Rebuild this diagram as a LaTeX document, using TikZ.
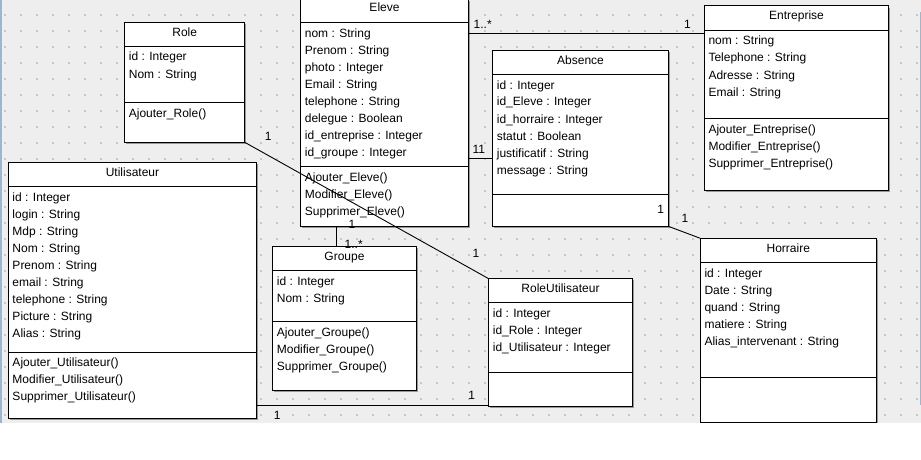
\documentclass[tikz,border=0pt]{standalone}
\usepackage{fontspec}
\setmainfont{Liberation Sans}
\usetikzlibrary{shadows}
\definecolor{bggrey}{HTML}{EEEEEE}
\definecolor{dotgrey}{HTML}{C8C8C8}
\definecolor{frameblue}{RGB}{160,180,205}
\tikzset{
  umlbox/.style={draw=black, line width=1pt, fill=white, anchor=north west,
    inner sep=0pt, outer sep=0pt,
    drop shadow={shadow xshift=1.6pt, shadow yshift=-1.6pt, fill=black!40, opacity=1}},
  divider/.style={draw=black, line width=1pt},
  conn/.style={draw=black, line width=0.9pt},
  ttl/.style={anchor=base, inner sep=0pt, font=\fontsize{12}{14}\selectfont},
  txt/.style={anchor=base west, inner sep=0pt, font=\fontsize{12}{14}\selectfont},
  mult/.style={anchor=base, inner sep=0pt, font=\fontsize{12}{14}\selectfont},
  multw/.style={anchor=base west, inner sep=0pt, font=\fontsize{12}{14}\selectfont},
}
% \members{prefix}{x}{first baseline}{list}
\newcommand\members[4]{%
  \foreach \t [count=\i] in {#4} {\node[txt] (#1-\i) at ({#2},{#3+17*(\i-1)}) {\t};}}
\begin{document}
\begin{tikzpicture}[x=1pt,y=-1pt]
\useasboundingbox (0,0) rectangle (921,460);
\fill[white] (0,0) rectangle (921,460);
\begin{scope}
\clip (0,0) rectangle (921,422.6);
\fill[bggrey] (0,0) rectangle (921,422.6);
\foreach \i in {0,...,57} {\foreach \j in {0,...,25} {\fill[dotgrey] ({4+16*\i},{14+16*\j}) rectangle ++(2,2);}}
\draw[frameblue, line width=1.5pt] (1,0) -- (1,422.6);
\draw[frameblue, line width=1.3pt] (920.2,12) -- (920.2,405);

% ---------- Role
\node[umlbox, minimum width=120pt, minimum height=119.6pt] (role) at (124.7,22.7) {};
\draw[divider] (role.west |- 0,46.3) -- (role.east |- 0,46.3);
\draw[divider] (role.west |- 0,102.7) -- (role.east |- 0,102.7);
\node[ttl] (role-t) at (184.7,36.7) {Role};
\members{role-a}{128.7}{61}{id : Integer, Nom : String}
\members{role-m}{128.7}{117.3}{Ajouter\_Role()}

% ---------- Eleve
\node[umlbox, minimum width=167.6pt, minimum height=227.3pt] (eleve) at (300.7,-1) {};
\draw[divider] (eleve.west |- 0,22.7) -- (eleve.east |- 0,22.7);
\draw[divider] (eleve.west |- 0,166.3) -- (eleve.east |- 0,166.3);
\node[ttl] (eleve-t) at (384.5,11.7) {Eleve};
\members{eleve-a}{304.7}{37.4}{nom : String, Prenom : String, photo : Integer, Email : String, telephone : String, delegue : Boolean, id\_entreprise : Integer, id\_groupe : Integer}
\members{eleve-m}{304.7}{181}{Ajouter\_Eleve(), Modifier\_Eleve(), Supprimer\_Eleve()}

% ---------- Absence
\node[umlbox, minimum width=175.6pt, minimum height=175.6pt] (absence) at (492.7,50.7) {};
\draw[divider] (absence.west |- 0,74.3) -- (absence.east |- 0,74.3);
\draw[divider] (absence.west |- 0,194) -- (absence.east |- 0,194);
\node[ttl] (absence-t) at (580.5,64.7) {Absence};
\members{absence-a}{496.7}{89}{id : Integer, id\_Eleve : Integer, id\_horraire : Integer, statut : Boolean, justificatif : String, message : String}

% ---------- Entreprise
\node[umlbox, minimum width=184.4pt, minimum height=184.3pt] (entreprise) at (704.3,6) {};
\draw[divider] (entreprise.west |- 0,30.3) -- (entreprise.east |- 0,30.3);
\draw[divider] (entreprise.west |- 0,118.3) -- (entreprise.east |- 0,118.3);
\node[ttl] (entreprise-t) at (796.5,20) {Entreprise};
\members{entreprise-a}{708.3}{45}{nom : String, Telephone : String, Adresse : String, Email : String}
\members{entreprise-m}{708.3}{133}{Ajouter\_Entreprise(), Modifier\_Entreprise(), Supprimer\_Entreprise()}

% ---------- Utilisateur
\node[umlbox, minimum width=248.4pt, minimum height=255.6pt] (util) at (8.3,162.7) {};
\draw[divider] (util.west |- 0,186.3) -- (util.east |- 0,186.3);
\draw[divider] (util.west |- 0,352) -- (util.east |- 0,352);
\node[ttl] (util-t) at (132.5,176.7) {Utilisateur};
\members{util-a}{12.3}{201}{id : Integer, login : String, Mdp : String, Nom : String, Prenom : String, email : String, telephone : String, Picture : String, Alias : String}
\members{util-m}{12.3}{366.7}{Ajouter\_Utilisateur(), Modifier\_Utilisateur(), Supprimer\_Utilisateur()}

% ---------- Groupe
\node[umlbox, minimum width=143.6pt, minimum height=143.6pt] (groupe) at (272.7,246.7) {};
\draw[divider] (groupe.west |- 0,270.3) -- (groupe.east |- 0,270.3);
\draw[divider] (groupe.west |- 0,321.3) -- (groupe.east |- 0,321.3);
\node[ttl] (groupe-t) at (344.5,260.7) {Groupe};
\members{groupe-a}{276.7}{285}{id : Integer, Nom : String}
\members{groupe-m}{276.7}{336}{Ajouter\_Groupe(), Modifier\_Groupe(), Supprimer\_Groupe()}

% ---------- RoleUtilisateur
\node[umlbox, minimum width=143.6pt, minimum height=127.6pt] (ru) at (488.7,278.7) {};
\draw[divider] (ru.west |- 0,302.7) -- (ru.east |- 0,302.7);
\draw[divider] (ru.west |- 0,372.7) -- (ru.east |- 0,372.7);
\node[ttl] (ru-t) at (560.5,292.7) {RoleUtilisateur};
\members{ru-a}{492.7}{317.4}{id : Integer, id\_Role : Integer, id\_Utilisateur : Integer}

% ---------- Horraire
\node[umlbox, minimum width=176pt, minimum height=183.7pt] (horraire) at (700.3,238.3) {};
\draw[divider] (horraire.west |- 0,262.3) -- (horraire.east |- 0,262.3);
\draw[divider] (horraire.west |- 0,377.3) -- (horraire.east |- 0,377.3);
\node[ttl] (horraire-t) at (788.3,252.3) {Horraire};
\members{horraire-a}{704.3}{277}{id : Integer, Date : String, quand : String, matiere : String, Alias\_intervenant : String}

% ---------- connectors
\coordinate (yEnt) at (0,33.7);
\coordinate (yAbs) at (0,158.3);
\coordinate (xGrp) at (336,0);
\coordinate (yRU) at (0,405.3);
\draw[conn] (eleve.east |- yEnt) -- (entreprise.west |- yEnt);
\draw[conn] (eleve.east |- yAbs) -- (absence.west |- yAbs);
\draw[conn] (role.south east) -- (ru.north west);
\draw[conn] (eleve.south -| xGrp) -- (groupe.north -| xGrp);
\draw[conn] (absence.south east) -- (horraire.north west);
\draw[conn] (util.east |- yRU) -- (ru.west |- yRU);

% ---------- multiplicities
\node[multw] (m1) at (473.5,28.5) {1..*};
\node[mult] (m2) at (687.5,28.3) {1};
\node[mult] (m3) at (478.8,153.3) {11};
\node[mult] (m4) at (268.3,140.7) {1};
\node[mult] (m5) at (476,257.3) {1};
\node[mult] (m6) at (352,228) {1};
\node[multw] (m7) at (344.5,248.2) {1..*};
\node[mult] (m8) at (660.7,213.3) {1};
\node[mult] (m9) at (685,222.3) {1};
\node[mult] (m10) at (277.3,419.3) {1};
\node[mult] (m11) at (471.7,399.3) {1};
\end{scope}
\end{tikzpicture}
\end{document}
